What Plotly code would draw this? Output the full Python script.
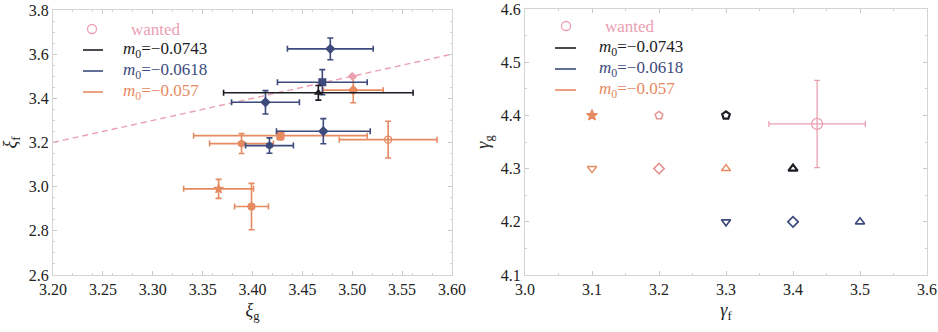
import plotly.graph_objects as go
from plotly.subplots import make_subplots

# ---------------- data ----------------
# left panel: xi_g vs xi_f
blue_xi_g = [3.478, 3.470, 3.413, 3.471, 3.417]
blue_xi_f = [3.624, 3.473, 3.382, 3.251, 3.186]
blue_err_g = [0.043, 0.045, 0.034, 0.047, 0.024]
blue_err_f = [0.049, 0.057, 0.053, 0.057, 0.035]

black_xi_g = [3.466]
black_xi_f = [3.425]
black_err_g = [0.095]
black_err_f = [0.033]

orange_xi_g = [3.501, 3.428, 3.389, 3.536, 3.366, 3.399]
orange_xi_f = [3.437, 3.231, 3.195, 3.213, 2.990, 2.910]
orange_err_g = [0.030, 0.087, 0.032, 0.049, 0.035, 0.017]
orange_err_f = [0.057, 0.020, 0.045, 0.083, 0.043, 0.105]

wanted_xi_g = [3.50]
wanted_xi_f = [3.50]
diag_x = [3.20, 3.60]
diag_y = [3.20, 3.60]

# right panel: gamma_f vs gamma_g
orange_gf = [3.1, 3.2, 3.1, 3.2, 3.3]
orange_gg = [4.4, 4.4, 4.3, 4.3, 4.3]
black_gf = [3.3, 3.4]
black_gg = [4.4, 4.3]
blue_gf = [3.3, 3.4, 3.5]
blue_gg = [4.2, 4.2, 4.2]
wanted_gf = [3.436]
wanted_gg = [4.384]
wanted_err_gf = [0.072]
wanted_err_gg = [0.082]

legend_labels = ["wanted", "<i>m</i><sub>0</sub>=\u22120.0743",
                 "<i>m</i><sub>0</sub>=\u22120.0618", "<i>m</i><sub>0</sub>=\u22120.057"]

left_xticks = [3.20, 3.25, 3.30, 3.35, 3.40, 3.45, 3.50, 3.55, 3.60]
left_yticks = [2.6, 2.8, 3.0, 3.2, 3.4, 3.6, 3.8]
right_xticks = [3.0, 3.1, 3.2, 3.3, 3.4, 3.5, 3.6]
right_yticks = [4.1, 4.2, 4.3, 4.4, 4.5, 4.6]

# ---------------- style ----------------
C_BLACK = "#1c1c24"
C_BLUE = "#3d4a7c"
C_ORANGE = "#e68a62"
C_PINK = "#eba0b2"
C_PINK_OR = "#e39490"
FONT = "Liberation Serif"

W, H = 938, 332
L1, R1, L2, R2 = 53, 452, 525, 927
TOP, BOT = 10, 275
TOP2 = 9

fig = make_subplots(rows=1, cols=2)


def errs(arr, color, thick=1.6, width=3):
    return dict(type="data", array=arr, visible=True, color=color, thickness=thick, width=width)


# left panel traces
fig.add_trace(go.Scatter(x=diag_x, y=diag_y, mode="lines",
                         line=dict(color=C_PINK, width=1.4, dash="6px,4px"), showlegend=False), 1, 1)
fig.add_trace(go.Scatter(x=orange_xi_g, y=orange_xi_f, mode="markers",
                         marker=dict(color=C_ORANGE, size=7,
                                     symbol=["diamond", "square", "hexagon", "circle-cross-open", "star", "circle"],
                                     line=dict(color=C_ORANGE, width=1.2)),
                         error_x=errs(orange_err_g, C_ORANGE), error_y=errs(orange_err_f, C_ORANGE),
                         showlegend=False), 1, 1)
fig.add_trace(go.Scatter(x=wanted_xi_g, y=wanted_xi_f, mode="markers",
                         marker=dict(color=C_PINK, size=7, symbol="diamond"), showlegend=False), 1, 1)
fig.add_trace(go.Scatter(x=blue_xi_g, y=blue_xi_f, mode="markers",
                         marker=dict(color=C_BLUE, size=8,
                                     symbol=["diamond", "square", "diamond", "diamond", "hexagon"]),
                         error_x=errs(blue_err_g, C_BLUE), error_y=errs(blue_err_f, C_BLUE),
                         showlegend=False), 1, 1)
fig.add_trace(go.Scatter(x=black_xi_g, y=black_xi_f, mode="markers",
                         marker=dict(color=C_BLACK, size=8, symbol="triangle-up"),
                         error_x=errs(black_err_g, C_BLACK), error_y=errs(black_err_f, C_BLACK),
                         showlegend=False), 1, 1)

# right panel traces
fig.add_trace(go.Scatter(x=orange_gf, y=orange_gg, mode="markers",
                         marker=dict(size=8,
                                     symbol=["star", "pentagon-open", "triangle-down-open", "diamond-open", "triangle-up-open"],
                                     color=[C_ORANGE, C_PINK_OR, C_ORANGE, C_PINK_OR, C_ORANGE],
                                     line=dict(width=1.5,
                                               color=[C_ORANGE, C_PINK_OR, C_ORANGE, C_PINK_OR, C_ORANGE])),
                         showlegend=False), 1, 2)
fig.add_trace(go.Scatter(x=black_gf, y=black_gg, mode="markers",
                         marker=dict(size=8, symbol=["pentagon-open", "triangle-up-open"], color=C_BLACK,
                                     line=dict(width=2.2, color=C_BLACK)),
                         showlegend=False), 1, 2)
fig.add_trace(go.Scatter(x=blue_gf, y=blue_gg, mode="markers",
                         marker=dict(size=8, symbol=["triangle-down-open", "diamond-open", "triangle-up-open"],
                                     color=C_BLUE, line=dict(width=1.7, color=C_BLUE)),
                         showlegend=False), 1, 2)
fig.add_trace(go.Scatter(x=wanted_gf, y=wanted_gg, mode="markers",
                         marker=dict(size=11, symbol="circle-open", color=C_PINK, line=dict(width=1.3, color=C_PINK)),
                         error_x=errs(wanted_err_gf, C_PINK, 1.3, 3), error_y=errs(wanted_err_gg, C_PINK, 1.3, 3),
                         showlegend=False), 1, 2)

# ---------------- axes ----------------
common = dict(showgrid=False, zeroline=False, showline=True, mirror="allticks", linecolor="#d4d4d4",
              linewidth=1, ticks="inside", ticklen=4, tickcolor="#c8c8c8", automargin=False,
              ticklabeloverflow="allow",
              tickfont=dict(family=FONT, size=16, color="#222"),
              minor=dict(ticks="inside", ticklen=2, tickcolor="#d4d4d4", nticks=5))

title_font = dict(family=FONT, size=18, color="#222")
fig.update_xaxes(common, row=1, col=1, range=[3.2, 3.6], tickvals=left_xticks,
                 ticktext=["%.2f" % v for v in left_xticks], ticklabelstandoff=0,
                 domain=[L1 / W, R1 / W],
                 title=dict(text="<i>\u03be</i><sub>g</sub>", font=title_font, standoff=6))
fig.update_yaxes(common, row=1, col=1, range=[2.6, 3.8], tickvals=left_yticks,
                 ticktext=["%.1f" % v for v in left_yticks],
                 domain=[1 - BOT / H, 1 - TOP / H],
                 title=dict(text="<i>\u03be</i><sub>f</sub>", font=title_font, standoff=16))
fig.update_xaxes(common, row=1, col=2, range=[3.0, 3.6], tickvals=right_xticks,
                 ticktext=["%.1f" % v for v in right_xticks], ticklabelstandoff=0,
                 domain=[L2 / W, R2 / W],
                 title=dict(text="<i>\u03b3</i><sub>f</sub>", font=title_font, standoff=6))
fig.update_yaxes(common, row=1, col=2, range=[4.1, 4.6001], tickvals=right_yticks,
                 ticktext=["%.1f" % v for v in right_yticks],
                 domain=[1 - BOT / H, 1 - TOP2 / H],
                 title=dict(text="<i>\u03b3</i><sub>g</sub>", font=title_font, standoff=6))

# ---------------- manual legends ----------------
legend_colors = [C_PINK, C_BLACK, C_BLUE, C_ORANGE]
shapes = []
annotations = []


def add_legend(xr, yr, x0, y0, width_px, height_px, marker_px, line_px, text_px, rows_px):
    def dx(px):
        return (px - x0) / width_px

    def dy(py):
        return (y0 - py) / height_px

    for i, (lab, col) in enumerate(zip(legend_labels, legend_colors)):
        py = rows_px[i]
        if i == 0:
            r = 4.5
            shapes.append(dict(type="circle", xref=xr, yref=yr,
                               x0=dx(marker_px - r), x1=dx(marker_px + r),
                               y0=dy(py + r), y1=dy(py - r),
                               line=dict(color=col, width=1.3)))
            tx = text_px[0]
        else:
            shapes.append(dict(type="line", xref=xr, yref=yr,
                               x0=dx(line_px[0]), x1=dx(line_px[1]), y0=dy(py), y1=dy(py),
                               line=dict(color=col, width=1.6)))
            tx = text_px[1]
        annotations.append(dict(xref=xr, yref=yr, x=dx(tx), y=dy(py), text=lab, showarrow=False,
                                xanchor="left", yanchor="middle", borderpad=0,
                                font=dict(family=FONT, size=17, color=col)))


add_legend("x domain", "y domain", L1, BOT, R1 - L1, BOT - TOP, 92, (83, 103), (130, 122), [29, 50, 71, 92])
add_legend("x2 domain", "y2 domain", L2, BOT, R2 - L2, BOT - TOP2, 566, (555, 576), (604, 598), [26, 48, 69, 90])

fig.update_layout(width=W, height=H, margin=dict(l=0, r=0, t=0, b=0),
                  paper_bgcolor="white", plot_bgcolor="white",
                  font=dict(family=FONT),
                  shapes=shapes, annotations=annotations, showlegend=False)

fig.write_html("out.html", config={"displayModeBar": False},
               post_script="document.body.style.margin='0';document.body.style.overflow='hidden';")
